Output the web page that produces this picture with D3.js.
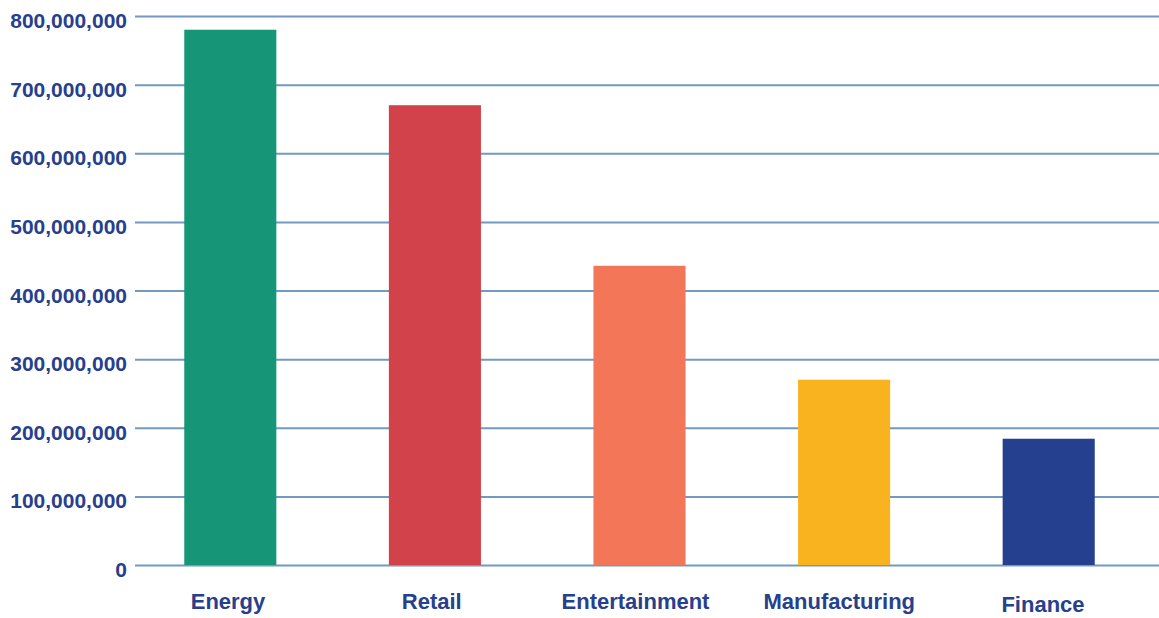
<!DOCTYPE html>
<html>
<head>
<meta charset="utf-8">
<script src="https://cdn.jsdelivr.net/npm/d3@7"></script>
<style>
  body { margin: 0; background: #fff; }
  svg { display: block; font-family: "Liberation Sans", Arial, Helvetica, sans-serif; }
  .grid line { stroke: #7199c2; stroke-width: 2; }
  .grid path { display: none; }
  .ylabel, .xlabel { fill: #26408d; font-weight: bold; }
</style>
</head>
<body>
<svg id="chart" width="1159" height="618"></svg>
<script>
// data
const categories = ["Energy", "Retail", "Entertainment", "Manufacturing", "Finance"];
const values = [780000000, 670000000, 436000000, 270000000, 184000000];
const colors = ["#169677", "#d2424a", "#f37659", "#f9b31e", "#25408e"];
const yTicks = [0, 100000000, 200000000, 300000000, 400000000, 500000000, 600000000, 700000000, 800000000];

const svg = d3.select("#chart");

// plot area
const gridLeft = 135, gridRight = 1159;
const yTop = 16, yBottom = 565;

const x = d3.scaleBand()
    .domain(categories)
    .range([128, 1151])
    .paddingInner(0.55)
    .paddingOuter(0.275);

// labels sit a little off the bar centres in the original
const xLabel = d3.scalePoint()
    .domain(categories)
    .range([228, 1043]);

const y = d3.scaleLinear()
    .domain([0, 800000000])
    .range([yBottom, yTop]);

// gridlines
svg.append("g")
    .attr("class", "grid")
    .attr("transform", `translate(${gridLeft},0)`)
    .call(d3.axisLeft(y)
        .tickValues(yTicks)
        .tickSize(-(gridRight - gridLeft))
        .tickFormat(""));

// y labels
svg.append("g")
    .selectAll("text")
    .data(yTicks)
    .join("text")
    .attr("class", "ylabel")
    .attr("x", 127)
    .attr("y", d => y(d) + 12)
    .attr("text-anchor", "end")
    .style("font-size", "21px")
    .text(d => d3.format(",")(d));

// bars
svg.append("g")
    .selectAll("rect")
    .data(values)
    .join("rect")
    .attr("x", (d, i) => x(categories[i]))
    .attr("y", d => y(d))
    .attr("width", x.bandwidth())
    .attr("height", d => y(0) - y(d))
    .attr("fill", (d, i) => colors[i]);

// category labels
svg.append("g")
    .selectAll("text")
    .data(categories)
    .join("text")
    .attr("class", "xlabel")
    .attr("x", d => xLabel(d))
    .attr("y", d => d === "Finance" ? 612 : 609)
    .attr("text-anchor", "middle")
    .style("font-size", "22px")
    .text(d => d);
</script>
</body>
</html>
